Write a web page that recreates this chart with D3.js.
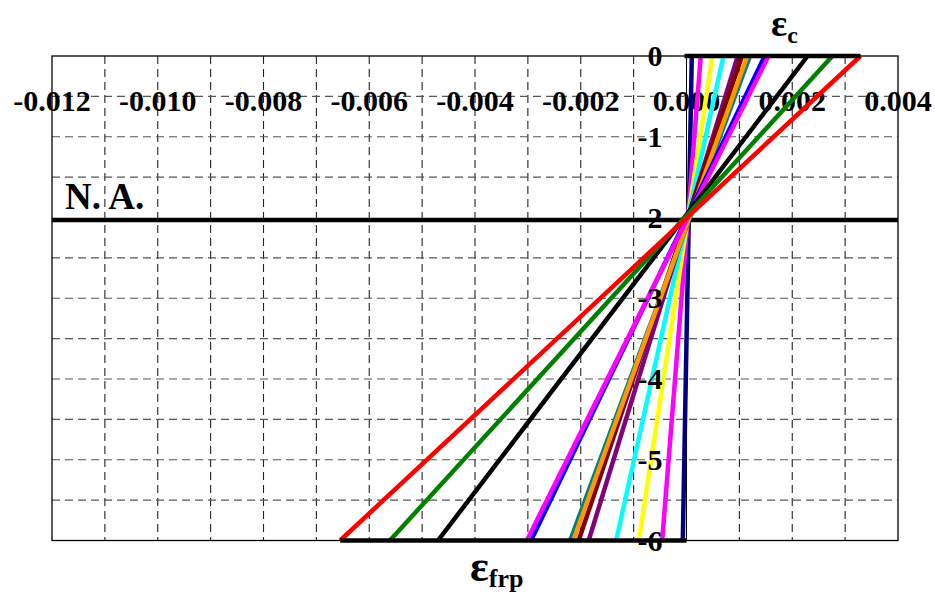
<!DOCTYPE html>
<html>
<head>
<meta charset="utf-8">
<script src="https://cdn.jsdelivr.net/npm/d3@7"></script>
<style>
    body { margin: 0; background: #fff; }
    svg { display: block; }
    text { font-family: "Liberation Serif", "Times New Roman", serif; font-weight: bold; fill: #000; }
</style>
</head>
<body>
<div id="chart"></div>
<script>
// strain axis ticks and depth axis ticks
const strainTicks = [-0.012, -0.010, -0.008, -0.006, -0.004, -0.002, 0.000, 0.002, 0.004];
const strainGrid = [-0.011, -0.010, -0.009, -0.008, -0.007, -0.006, -0.005, -0.004, -0.003, -0.002, -0.001, 0.001, 0.002, 0.003];
const depthTicks = [0, -1, -2, -3, -4, -5, -6];
const depthGrid = [-0.5, -1, -1.5, -2.5, -3, -3.5, -4, -4.5, -5, -5.5];

const topDepth = 0;
const bottomDepth = -6;
const naDepth = -2.03;

// strain at top fibre (concrete) and at bottom (frp), one entry per load step
const concreteStrain = [0.0001, 0.00027, 0.00049, 0.0007, 0.00097, 0.00105, 0.0012, 0.00115, 0.00148, 0.00155, 0.00229, 0.00276, 0.00329];
const frpStrain = [-0.00007, -0.00046, -0.0009, -0.00133, -0.00185, -0.00204, -0.0022, -0.00214, -0.00294, -0.00302, -0.0047, -0.00561, -0.00655];

const lineColors = ["#000080", "#ff00ff", "#ffff00", "#00ffff", "#800080", "#800000", "#008080",
    "#ff9900", "#0000ff", "#ff00ff", "#000000", "#008000", "#ff0000"];

const W = 935, H = 596;

const svg = d3.select("#chart").append("svg")
    .attr("width", W)
    .attr("height", H);

const x = d3.scaleLinear().domain([-0.012, 0.004]).range([52, 898]);
const y = d3.scaleLinear().domain([0, -6]).range([56, 540.5]);

// plain hyphen, like the original
const fmt = d => d3.format(".3f")(d).replace("\u2212", "-");

// grid
svg.append("g").selectAll("line")
    .data(strainGrid)
    .enter().append("line")
    .attr("x1", d => x(d)).attr("x2", d => x(d))
    .attr("y1", y(0)).attr("y2", y(-6))
    .attr("stroke", "#222")
    .attr("stroke-width", 1.1)
    .attr("stroke-dasharray", "8,5");

svg.append("g").selectAll("line")
    .data(depthGrid)
    .enter().append("line")
    .attr("x1", x(-0.012)).attr("x2", x(0.004))
    .attr("y1", d => y(d)).attr("y2", d => y(d))
    .attr("stroke", "#555")
    .attr("stroke-width", 1.1)
    .attr("stroke-dasharray", "8,5");

// plot frame
svg.append("rect")
    .attr("x", x(-0.012)).attr("y", y(0))
    .attr("width", x(0.004) - x(-0.012))
    .attr("height", y(-6) - y(0))
    .attr("fill", "none")
    .attr("stroke", "#000")
    .attr("stroke-width", 1.3);

// depth axis at zero strain
svg.append("line")
    .attr("x1", x(0)).attr("x2", x(0))
    .attr("y1", y(0)).attr("y2", y(-6))
    .attr("stroke", "#000")
    .attr("stroke-width", 1);

// strain tick labels (drawn under the profiles)
svg.append("g").selectAll("text")
    .data(strainTicks)
    .enter().append("text")
    .attr("x", d => x(d))
    .attr("y", y(0) + 55)
    .attr("text-anchor", "middle")
    .style("font-size", "30px")
    .text(fmt);

// neutral axis
svg.append("line")
    .attr("x1", x(-0.012)).attr("x2", x(0.004))
    .attr("y1", y(naDepth)).attr("y2", y(naDepth))
    .attr("stroke", "#000")
    .attr("stroke-width", 4.5);

svg.append("text")
    .attr("x", 65)
    .attr("y", y(naDepth) - 11)
    .style("font-size", "37px")
    .text("N. A.");

// strain profiles
svg.append("g").selectAll("line")
    .data(concreteStrain.map((d, i) => ({ top: d, bottom: frpStrain[i], color: lineColors[i] })))
    .enter().append("line")
    .attr("x1", d => x(d.top)).attr("y1", y(topDepth))
    .attr("x2", d => x(d.bottom)).attr("y2", y(bottomDepth))
    .attr("stroke", d => d.color)
    .attr("stroke-width", 4.5);

// top and bottom strain bars
svg.append("line")
    .attr("x1", x(0) - 2).attr("x2", x(d3.max(concreteStrain)))
    .attr("y1", y(topDepth)).attr("y2", y(topDepth))
    .attr("stroke", "#000")
    .attr("stroke-width", 4.5);

svg.append("line")
    .attr("x1", x(d3.min(frpStrain))).attr("x2", x(0))
    .attr("y1", y(bottomDepth)).attr("y2", y(bottomDepth))
    .attr("stroke", "#000")
    .attr("stroke-width", 4.5);

// depth tick labels (drawn over the profiles)
svg.append("g").selectAll("text")
    .data(depthTicks)
    .enter().append("text")
    .attr("x", x(0) - 24)
    .attr("y", d => y(d) + 10)
    .attr("text-anchor", "end")
    .style("font-size", "30px")
    .text(d => d === 0 ? "0" : "-" + Math.abs(d));

// strain labels
const ec = svg.append("text")
    .attr("x", 771)
    .attr("y", 36)
    .style("font-size", "38px");
ec.append("tspan").text("ε");
ec.append("tspan").attr("dy", 7).style("font-size", "24px").text("c");

const ef = svg.append("text")
    .attr("x", 470)
    .attr("y", 581)
    .style("font-size", "44px");
ef.append("tspan").text("ε");
ef.append("tspan").attr("dy", 6).style("font-size", "26px").text("frp");
</script>
</body>
</html>
